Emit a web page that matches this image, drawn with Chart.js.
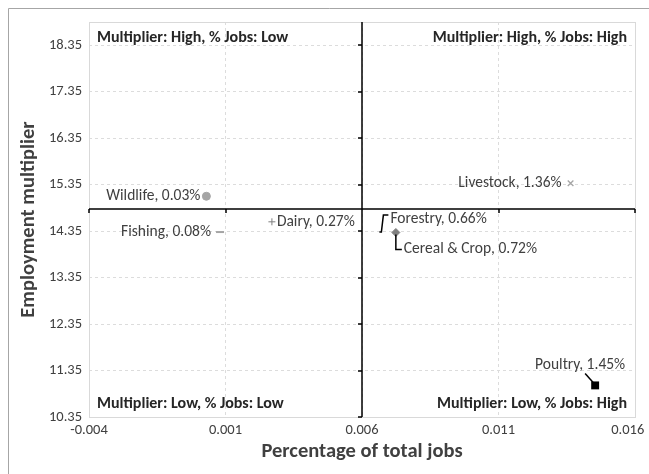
<!DOCTYPE html>
<html>
<head>
<meta charset="utf-8">
<script src="https://cdn.jsdelivr.net/npm/chart.js@4.4.1/dist/chart.umd.min.js"></script>
<style>
  html, body { margin: 0; padding: 0; background: #fff; }
  #wrap { width: 649px; height: 474px; position: relative; }
</style>
</head>
<body>
<div id="wrap"><canvas id="chart"></canvas></div>
<script>
// --- data ---
const CATEGORIES = ['Wildlife', 'Fishing', 'Dairy', 'Forestry', 'Cereal & Crop', 'Livestock', 'Poultry'];
const JOB_SHARE  = [0.0003, 0.0008, 0.0027, 0.0066, 0.00724, 0.01364, 0.01454];
const MULTIPLIER = [15.10, 14.33, 14.55, 14.33, 14.32, 15.38, 11.03];
const X_TICKS = [-0.004, 0.001, 0.006, 0.011, 0.016];
const Y_TICKS = [10.35, 11.35, 12.35, 13.35, 14.35, 15.35, 16.35, 17.35, 18.35];
const Y_MAX = 18.85;
const CROSS_X = 0.006;   // vertical quadrant axis
const CROSS_Y = 14.82;   // horizontal quadrant axis
const QUADRANT_TEXT = [
  'Multiplier: High, % Jobs: Low', 'Multiplier: High, % Jobs: High',
  'Multiplier: Low, % Jobs: Low',  'Multiplier: Low, % Jobs: High',
];

// --- styles ---
const FONT = 'Carlito, Lato, sans-serif';
const MARKERS = [
  { style: 'circle',   r: 4,   bg: '#a5a5a5', bc: '#a5a5a5', bw: 1 },
  { style: 'line',     r: 4,   bg: '#a5a5a5', bc: '#a5a5a5', bw: 2 },
  { style: 'cross',    r: 3.5, bg: '#7f7f7f', bc: '#7f7f7f', bw: 1 },
  { style: 'circle',   r: 0,   bg: '#7f7f7f', bc: '#7f7f7f', bw: 0 },
  { style: 'rectRot',  r: 4,   bg: '#7f7f7f', bc: '#7f7f7f', bw: 1 },
  { style: 'crossRot', r: 4,   bg: '#a5a5a5', bc: '#a5a5a5', bw: 1.3 },
  { style: 'rect',     r: 5.6, bg: '#000000', bc: '#000000', bw: 0 },
];
// label placement relative to the point, plus optional leader polyline
const LABEL_POS = [
  { dx: -6,  dy: 0,   align: 'right' },
  { dx: -9,  dy: 0,   align: 'right' },
  { dx: 5,   dy: 0,   align: 'left' },
  { dx: 12,  dy: -13, align: 'left', leader: [[1, 0], [3, 0], [5, -17], [10, -17]] },
  { dx: 8,   dy: 17,  align: 'left', leader: [[0, 2], [0, 17], [6, 17]] },
  { dx: -9,  dy: 0,   align: 'right' },
  { dx: -15, dy: -20, align: 'center', leader: [[-10, -12], [-2, -3]] },
];

const datasets = CATEGORIES.map((name, i) => ({
  label: name,
  data: [{ x: JOB_SHARE[i], y: MULTIPLIER[i] }],
  pointStyle: MARKERS[i].style,
  pointRadius: MARKERS[i].r,
  pointBackgroundColor: MARKERS[i].bg,
  pointBorderColor: MARKERS[i].bc,
  pointBorderWidth: MARKERS[i].bw,
}));

const quadrantPlugin = {
  id: 'quadrants',
  beforeDraw(chart) {
    const { ctx } = chart;
    ctx.save();
    ctx.strokeStyle = '#a6a6a6';
    ctx.lineWidth = 1;
    ctx.beginPath();
    ctx.moveTo(8.5, 480); ctx.lineTo(8.5, 8.5); ctx.lineTo(660, 8.5);
    ctx.stroke();
    ctx.restore();
  },
  beforeDatasetsDraw(chart) {
    const { ctx, chartArea: a, scales: { x, y } } = chart;
    ctx.save();
    ctx.strokeStyle = '#d9d9d9';
    ctx.lineWidth = 1;
    ctx.strokeRect(Math.round(a.left) + 0.5, Math.round(a.top) + 0.5,
      Math.round(a.right - a.left), Math.round(a.bottom - a.top));
    const cx = Math.round(x.getPixelForValue(CROSS_X));
    const cy = Math.round(y.getPixelForValue(CROSS_Y));
    ctx.strokeStyle = '#000';
    ctx.lineWidth = 1.5;
    ctx.beginPath();
    ctx.moveTo(cx, a.top); ctx.lineTo(cx, a.bottom);
    ctx.moveTo(a.left, cy); ctx.lineTo(a.right, cy);
    Y_TICKS.forEach(v => {
      const py = Math.round(y.getPixelForValue(v));
      ctx.moveTo(cx - 4, py); ctx.lineTo(cx, py);
    });
    X_TICKS.forEach(v => {
      const px = Math.round(x.getPixelForValue(v));
      ctx.moveTo(px, cy); ctx.lineTo(px, cy + 4);
    });
    ctx.stroke();

    ctx.fillStyle = '#262626';
    ctx.font = 'bold 16px ' + FONT;
    ctx.textBaseline = 'middle';
    ctx.textAlign = 'left';
    ctx.fillText(QUADRANT_TEXT[0], a.left + 8, a.top + 16);
    ctx.fillText(QUADRANT_TEXT[2], a.left + 8, a.bottom - 13);
    ctx.textAlign = 'right';
    ctx.fillText(QUADRANT_TEXT[1], a.right - 8, a.top + 16);
    ctx.fillText(QUADRANT_TEXT[3], a.right - 8, a.bottom - 13);
    ctx.restore();
  },
  afterDatasetsDraw(chart) {
    const { ctx } = chart;
    ctx.save();
    ctx.font = '15.5px ' + FONT;
    ctx.textBaseline = 'middle';
    chart.data.datasets.forEach((ds, i) => {
      const pt = chart.getDatasetMeta(i).data[0];
      const pos = LABEL_POS[i];
      if (pos.leader) {
        ctx.strokeStyle = '#000';
        ctx.lineWidth = 1.5;
        ctx.beginPath();
        pos.leader.forEach(([lx, ly], k) => {
          if (k === 0) ctx.moveTo(pt.x + lx, pt.y + ly);
          else ctx.lineTo(pt.x + lx, pt.y + ly);
        });
        ctx.stroke();
      }
      ctx.fillStyle = '#404040';
      ctx.textAlign = pos.align;
      const text = ds.label + ', ' + (ds.data[0].x * 100).toFixed(2) + '%';
      ctx.fillText(text, pt.x + pos.dx, pt.y + pos.dy);
    });
    ctx.restore();
  },
};

new Chart(document.getElementById('chart'), {
  type: 'scatter',
  data: { datasets },
  options: {
    responsive: true,
    maintainAspectRatio: false,
    animation: false,
    events: [],
    layout: { padding: { top: 22, right: 14, left: 0, bottom: 0 } },
    plugins: { legend: { display: false }, tooltip: { enabled: false } },
    scales: {
      x: {
        type: 'linear',
        min: X_TICKS[0],
        max: X_TICKS[X_TICKS.length - 1],
        afterBuildTicks: s => { s.ticks = X_TICKS.map(v => ({ value: v })); },
        afterFit: s => { s.height = 57; s.paddingLeft = 0; s.paddingRight = 0; },
        grid: { color: '#dcdcdc', drawTicks: false },
        border: { display: false, dash: [3, 3] },
        ticks: {
          color: '#404040', padding: 5, maxRotation: 0, autoSkip: false,
          font: { family: FONT, size: 14.5 },
          // last label is pulled inside the chart edge, as the original does
          callback: (v, i, all) => Number(v).toFixed(3) + (i === all.length - 1 ? '\u2002\u2002' : ''),
        },
        title: {
          display: true, text: 'Percentage of total jobs', color: '#404040',
          font: { family: FONT, size: 20.5, weight: 'bold' },
          padding: { top: 0, bottom: 10 },
        },
      },
      y: {
        type: 'linear',
        min: Y_TICKS[0],
        max: Y_MAX,
        afterBuildTicks: s => { s.ticks = Y_TICKS.map(v => ({ value: v })); },
        afterFit: s => { s.width = 89; s.paddingTop = 0; s.paddingBottom = 0; },
        grid: { color: '#dcdcdc', drawTicks: false },
        border: { display: false, dash: [3, 3] },
        ticks: {
          color: '#404040', padding: 7, autoSkip: false,
          font: { family: FONT, size: 14.5 },
          callback: v => Number(v).toFixed(2),
        },
        title: {
          display: true, text: 'Employment multiplier', color: '#404040',
          font: { family: FONT, size: 20.5, weight: 'bold' },
          padding: { top: 17, bottom: 0 },
        },
      },
    },
  },
  plugins: [quadrantPlugin],
});
</script>
</body>
</html>
